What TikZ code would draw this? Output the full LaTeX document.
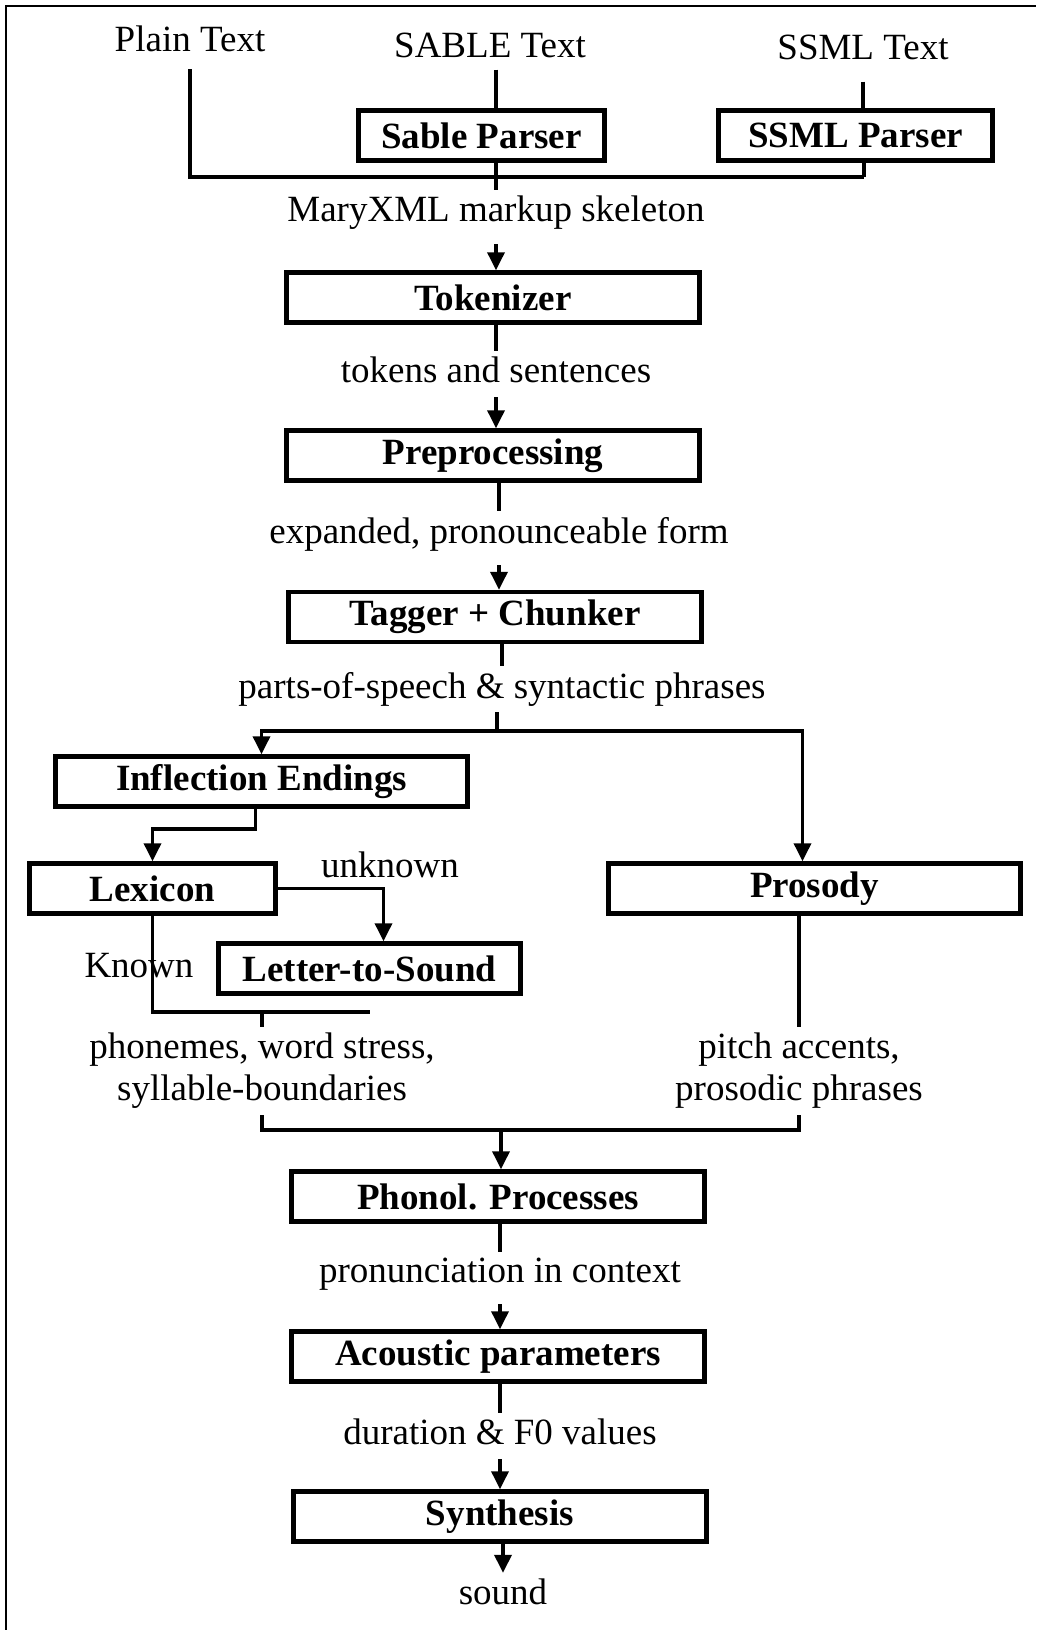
\documentclass[tikz,border=0pt]{standalone}
\usepackage{fontspec}
\setmainfont{Liberation Serif}
\usepackage{tikz}
\usetikzlibrary{arrows.meta}
\usetikzlibrary{calc}
\newcommand{\diagfont}{\fontsize{37}{42}\selectfont}
\tikzstyle{procbox}=[draw,line width=4.5pt,minimum height=50pt,inner sep=0pt,font=\diagfont\bfseries]
\tikzstyle{datalabel}=[inner xsep=2pt,inner ysep=6pt,align=center,font=\diagfont]
\tikzstyle{flow} = [draw,line width=3.6pt]
\tikzstyle{flowarrow} = [draw,line width=3.6pt,-{Triangle[length=18pt,width=17pt]}]

\begin{document}
\begin{tikzpicture}[x=1pt,y=-1pt]
    \useasboundingbox (0,0) rectangle (1036,1630);
    % frame (only top and left edge show)
    \draw[line width=2pt] (6,1630) -- (6,6) -- (1036,6);

    % First the processing boxes
    \foreach \pos/\name/\boxw/\label in {{(481.5,135.5)/sable/246/Sable Parser}, {(855.5,135.5)/ssml/274/SSML Parser},
        {(493,297.5)/tok/413/Tokenizer}, {(493,455.5)/prep/413/Preprocessing}, {(495,617)/tag/413/Tagger + Chunker},
        {(261.5,781.5)/infl/412/Inflection Endings}, {(152.5,888.5)/lex/246/Lexicon}, {(814.5,888.5)/pros/412/Prosody},
        {(369.5,968.5)/lts/302/Letter-to-Sound}, {(498,1196.5)/phon/413/Phonol. Processes},
        {(498,1356.5)/acou/413/Acoustic parameters}, {(500,1516.5)/synth/413/Synthesis}}
        \node[procbox, minimum width=\boxw pt] (\name) at \pos {\label};

    % Then the data passed between them
    \foreach \pos/\name/\label in {{(190,39)/plain/Plain Text}, {(490,45)/sabletxt/SABLE Text}, {(863,47)/ssmltxt/SSML Text},
        {(496,213)/mary/MaryXML markup skeleton}, {(496,370)/tokens/tokens and sentences},
        {(499,534)/expanded/{expanded, pronounceable form}}, {(502,689)/pos/parts-of-speech \& syntactic phrases},
        {(390,865)/unknown/unknown}, {(139,966)/known/Known},
        {(262,1071)/phonemes/{phonemes, word stress,\\syllable-boundaries}},
        {(799,1071)/pitch/{pitch accents,\\prosodic phrases}},
        {(500,1274)/pron/pronunciation in context}, {(500,1432)/dur/duration \& F0 values}, {(503,1592)/sound/sound}}
        \node[datalabel] (\name) at \pos {\label};

    \coordinate (join) at (864,177);
    \coordinate (split) at (497,731);
    \coordinate (lexout) at (262,1012);
    \coordinate (merge) at (501,1130);

    % input side
    \path[flow, shorten <=11pt] (plain.south) |- (join);
    \path[flow, shorten <=16pt] (ssmltxt.south) -- (ssmltxt.south |- ssml.north);
    \path[flow] (ssml.south -| join) -- (join);
    \path[flow, shorten <=6pt] (mary.north |- sabletxt.south) -- (mary.north |- sable.north);
    \path[flow] (mary.north |- sable.south) -- (mary.north);

    % main chain
    \foreach \source/\dest in {tok/tokens, prep/expanded, tag/pos, pros/pitch, phon/pron, acou/dur}
        \path[flow] (\dest.north |- \source.south) -- (\dest.north);
    \foreach \source/\dest in {mary/tok, tokens/prep, expanded/tag, pron/acou, dur/synth}
        \path[flowarrow, shorten <=8pt] (\source.south) -- (\source.south |- \dest.north);
    \path[flowarrow] (sound.north |- synth.south) -- (sound.north);

    % branches
    \path[flow] (split |- pos.south) -- (split);
    \path[flowarrow] (split) -| (infl.north);
    \path[flowarrow] (split) -| ([xshift=-12pt]pros.north);
    \path[flowarrow] ([xshift=-6pt]infl.south) -- ++(0,20) -| (lex.north);
    \path[flowarrow] (lex.east) -| ([xshift=14pt]lts.north);
    \path[flow] (lex.south) |- (lts.south |- lexout);
    \path[flow] (lexout) -- (phonemes.north);
    \path[flow] (phonemes.south) |- (merge) -| (pitch.south);
    \path[flowarrow] (merge) -- (merge |- phon.north);
\end{tikzpicture}
\end{document}
